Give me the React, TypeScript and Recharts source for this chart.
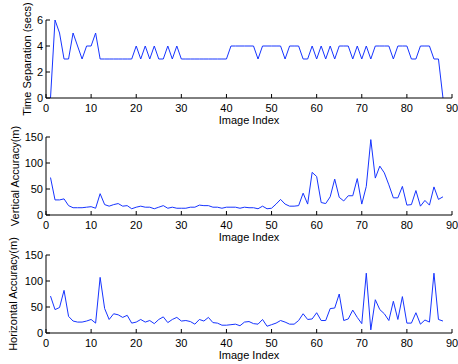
import React from 'react';
import { LineChart, Line, XAxis, YAxis } from 'recharts';

const timeSeparation = [
  0, 6, 5, 3, 3, 5, 4, 3, 4, 4,
  5, 3, 3, 3, 3, 3, 3, 3, 3, 4,
  3, 4, 3, 4, 3, 3, 4, 3, 4, 3,
  3, 3, 3, 3, 3, 3, 3, 3, 3, 3,
  4, 4, 4, 4, 4, 4, 3, 4, 4, 4,
  4, 4, 3, 4, 4, 4, 3, 3, 4, 3,
  4, 3, 4, 3, 4, 4, 4, 3, 4, 3,
  4, 3, 4, 4, 4, 4, 3, 4, 4, 4,
  3, 3, 4, 4, 4, 3, 3, 0,
];

const verticalAccuracy = [
  72, 29, 29, 31, 18, 14, 14, 14, 15, 16,
  13, 41, 20, 17, 20, 22, 17, 18, 12, 15,
  17, 15, 15, 12, 15, 18, 13, 15, 13, 13,
  13, 15, 15, 19, 18, 18, 15, 15, 13, 15,
  15, 15, 13, 15, 14, 14, 12, 17, 12, 13,
  21, 30, 21, 17, 17, 18, 42, 21, 82, 74,
  24, 22, 35, 69, 34, 27, 37, 37, 70, 21,
  55, 145, 71, 94, 81, 58, 33, 33, 55, 19,
  20, 47, 17, 28, 19, 54, 30, 35,
];

const horizontalAccuracy = [
  71, 45, 49, 82, 32, 23, 21, 21, 23, 26,
  19, 107, 47, 26, 37, 35, 30, 34, 19, 21,
  26, 21, 24, 18, 26, 31, 20, 26, 30, 23,
  24, 22, 17, 26, 23, 30, 20, 19, 15, 15,
  16, 17, 14, 21, 22, 18, 17, 26, 13, 16,
  19, 24, 21, 17, 17, 24, 37, 26, 27, 39,
  24, 24, 47, 48, 75, 24, 27, 44, 30, 18,
  115, 6, 64, 45, 37, 24, 61, 26, 70, 19,
  19, 39, 17, 25, 21, 115, 26, 23,
];

const xTicks = [0, 10, 20, 30, 40, 50, 60, 70, 80, 90];
const timeTicks = [0, 2, 4, 6];
const accuracyTicks = [0, 50, 100, 150];

const FONT = '"Liberation Sans", Arial, Helvetica, sans-serif';
const LINE = '#1634ff';
const tickStyle = { fontSize: 11, fill: '#000', fontFamily: FONT };

const toRows = (values: number[]) => values.map((v, i) => ({ image: i + 1, value: v }));

// rotated y title, centred on the plot height
const YTitle: React.FC<any> = ({ viewBox, value, cx }) => {
  const cy = viewBox.y + viewBox.height / 2;
  return (
    <text
      x={cx}
      y={cy}
      transform={`rotate(-90 ${cx} ${cy})`}
      textAnchor="middle"
      dominantBaseline="central"
      fontSize={11}
      fontFamily={FONT}
      fill="#000"
    >
      {value}
    </text>
  );
};

interface PanelProps {
  top: number;
  values: number[];
  yMax: number;
  yTicks: number[];
  title: string;
  titleX: number;
}

const Panel: React.FC<PanelProps> = ({ top, values, yMax, yTicks, title, titleX }) => (
  <div style={{ position: 'absolute', left: 0, top }}>
    <LineChart width={458} height={130} data={toRows(values)} margin={{ top: 20, right: 6, left: 0, bottom: 0 }}>
      <XAxis
        dataKey="image"
        type="number"
        domain={[0, 90]}
        ticks={xTicks}
        height={32}
        tickSize={-4}
        tickMargin={10}
        stroke="#000"
        tick={tickStyle}
        label={{ value: 'Image Index', position: 'insideBottom', offset: 6, style: { fontSize: 11, fill: '#000', fontFamily: FONT } }}
      />
      <XAxis xAxisId="top" orientation="top" dataKey="image" type="number" domain={[0, 90]} ticks={xTicks} height={0} tickSize={-4} tick={false} stroke="#000" />
      <YAxis
        type="number"
        domain={[0, yMax]}
        ticks={yTicks}
        width={46}
        tickSize={-4}
        tickMargin={7}
        stroke="#000"
        tick={tickStyle}
        label={<YTitle value={title} cx={titleX} />}
      />
      <YAxis yAxisId="right" orientation="right" type="number" domain={[0, yMax]} ticks={yTicks} width={0} tickSize={-4} tick={false} stroke="#000" />
      <Line type="linear" dataKey="value" stroke={LINE} strokeWidth={1} dot={false} isAnimationActive={false} />
    </LineChart>
  </div>
);

export default function App() {
  return (
    <div style={{ position: 'absolute', left: 0, top: 0, width: 458, height: 364, background: '#fff' }}>
      <Panel top={0} values={timeSeparation} yMax={6} yTicks={timeTicks} title="Time Separation (secs)" titleX={27} />
      <Panel top={117} values={verticalAccuracy} yMax={150} yTicks={accuracyTicks} title="Vertical Accuracy(m)" titleX={15} />
      <Panel top={235} values={horizontalAccuracy} yMax={150} yTicks={accuracyTicks} title="Horizontal Accuracy(m)" titleX={13} />
    </div>
  );
}
